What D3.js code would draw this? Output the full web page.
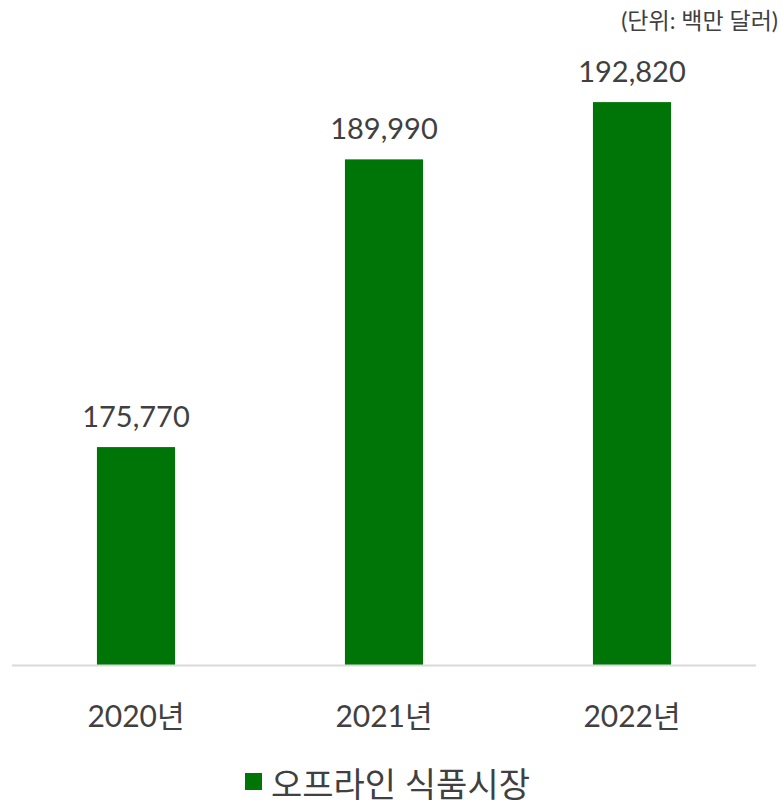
<!DOCTYPE html>
<html>
<head>
<meta charset="utf-8">
<script src="https://cdn.jsdelivr.net/npm/d3@7"></script>
<style>
  body { margin: 0; background: #fff; }
  text { font-family: Lato, "Noto Sans CJK KR", sans-serif; fill: #404040; }
</style>
</head>
<body>
<div id="wrapper"></div>
<script>
const years = ["2020년", "2021년", "2022년"]
const values = [175770, 189990, 192820]
const seriesName = "오프라인 식품시장"
const unitLabel = "(단위: 백만 달러)"

function drawChart() {
  const width = 781, height = 803
  const baseline = 665

  const svg = d3.select("#wrapper").append("svg")
      .attr("width", width)
      .attr("height", height)

  const x = d3.scaleBand()
      .domain(years)
      .range([12, 756])
      .paddingInner(0.685)
      .paddingOuter(0.3425)

  // axis doesn't start at zero in the original
  const y = d3.scaleLinear()
      .domain([165000, 195000])
      .range([baseline, 58])

  svg.append("text")
      .attr("x", 778)
      .attr("y", 29)
      .attr("text-anchor", "end")
      .style("font-size", "23px")
      .text(unitLabel)

  svg.selectAll("rect.bar")
    .data(values)
    .join("rect")
      .attr("class", "bar")
      .attr("x", (d, i) => x(years[i]))
      .attr("y", d => y(d))
      .attr("width", x.bandwidth())
      .attr("height", d => baseline - y(d))
      .attr("fill", "#007507")

  svg.selectAll("text.val")
    .data(values)
    .join("text")
      .attr("class", "val")
      .attr("x", (d, i) => x(years[i]) + x.bandwidth() / 2)
      .attr("y", d => y(d) - 20)
      .attr("text-anchor", "middle")
      .style("font-size", "29px")
      .text(d => d3.format(",")(d))

  svg.append("line")
      .attr("x1", 12).attr("x2", 756)
      .attr("y1", baseline + 0.5).attr("y2", baseline + 0.5)
      .attr("stroke", "#d9d9d9")
      .attr("stroke-width", 2)

  const xAxis = svg.append("g")
      .attr("transform", `translate(0,${baseline})`)
      .call(d3.axisBottom(x).tickSize(0).tickPadding(41))
  xAxis.select(".domain").remove()
  xAxis.selectAll("text")
      .style("font-size", "30px")
      .attr("fill", "#404040")
      .style("font-family", "Lato, 'Noto Sans CJK KR', sans-serif")

  // legend
  svg.append("rect")
      .attr("x", 245).attr("y", 773)
      .attr("width", 17).attr("height", 17)
      .attr("fill", "#007507")
  svg.append("text")
      .attr("x", 271)
      .attr("y", 797)
      .style("font-size", "34px")
      .text(seriesName)
}

drawChart()
</script>
</body>
</html>
